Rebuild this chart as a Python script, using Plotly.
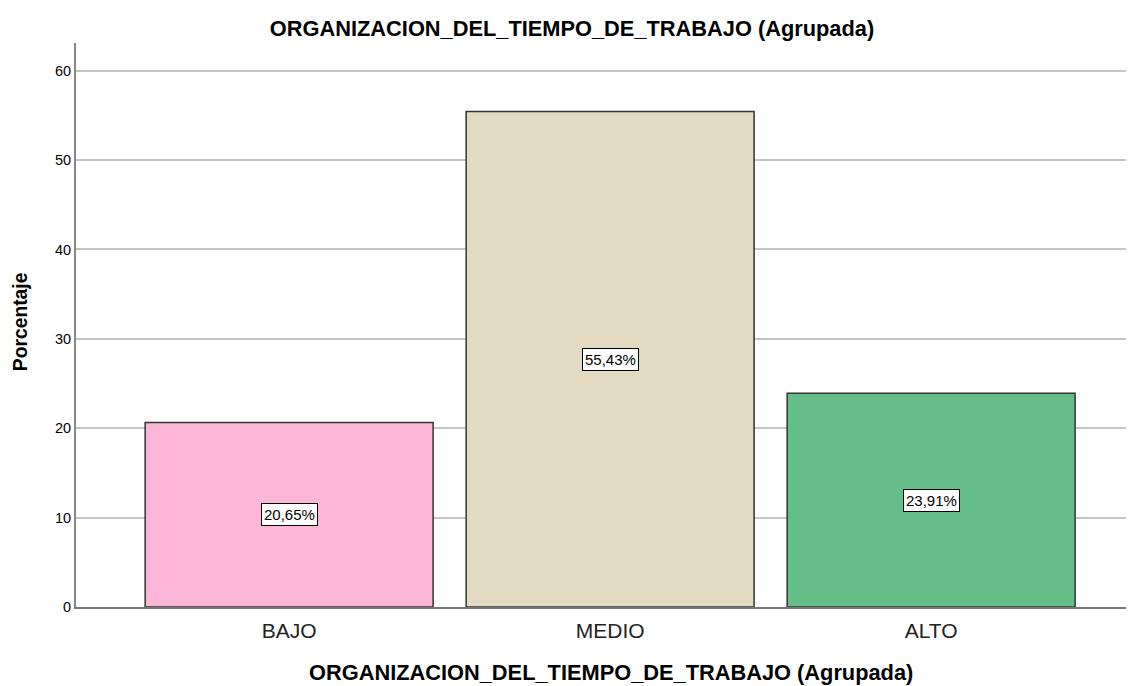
import plotly.graph_objects as go

categories = ["BAJO", "MEDIO", "ALTO"]
values = [20.65, 55.43, 23.91]
labels = ["20,65%", "55,43%", "23,91%"]
colors = ["#FDB6D8", "#E2DBC1", "#65BD87"]
y_ticks = [0, 10, 20, 30, 40, 50, 60]

# page has an 8px body margin, so the figure is 8px smaller than the window
W, H = 1126, 678
FONT = "Liberation Sans, Arial"
fig = go.Figure()
fig.add_trace(go.Bar(
    x=list(range(len(categories))), y=values,
    marker=dict(color=colors, line=dict(color="#333333", width=1.5)),
    width=0.897, hoverinfo="skip",
))
for i, (v, t) in enumerate(zip(values, labels)):
    fig.add_annotation(x=i, y=v / 2, text=t, showarrow=False,
                       font=dict(family=FONT, size=15, color="#000"),
                       bgcolor="white", bordercolor="#000", borderwidth=1, borderpad=2)

fig.add_annotation(xref="paper", yref="paper", x=(603 - 68) / 1058, y=0, yanchor="middle", yshift=-65,
                   text="<b>ORGANIZACION_DEL_TIEMPO_DE_TRABAJO (Agrupada)</b>", showarrow=False,
                   font=dict(family=FONT, size=21.8, color="#000"))
fig.add_annotation(xref="paper", yref="paper", x=0, xshift=-56, y=0.505, xanchor="center",
                   yanchor="middle", textangle=-90,
                   text="<b>Porcentaje</b>", showarrow=False,
                   font=dict(family=FONT, size=19.3, color="#000"))

fig.update_layout(
    width=W, height=H,
    margin=dict(l=68, r=0, t=35, b=79),
    plot_bgcolor="white", paper_bgcolor="white",
    showlegend=False,
    title=dict(text="<b>ORGANIZACION_DEL_TIEMPO_DE_TRABAJO (Agrupada)</b>",
               x=564 / W, xanchor="center", y=1 - 20 / H, yanchor="middle", yref="container",
               font=dict(family=FONT, size=21.8, color="#000")),
    xaxis=dict(tickmode="array", tickvals=list(range(len(categories))), ticktext=categories,
               range=[-0.664, 2.632], showgrid=False, showline=True, linecolor="#777",
               linewidth=2, ticks="", ticklabelstandoff=4,
               tickfont=dict(family=FONT, size=21, color="#222")),
    yaxis=dict(range=[0, 63.1], tickvals=y_ticks, showgrid=True, gridcolor="#C4C4C4", gridwidth=1.5,
               showline=True, linecolor="#888", linewidth=2, ticks="outside", ticklen=0,
               zeroline=False,
               tickfont=dict(family=FONT, size=14.5, color="#000")),
)
fig.write_html("out.html")
